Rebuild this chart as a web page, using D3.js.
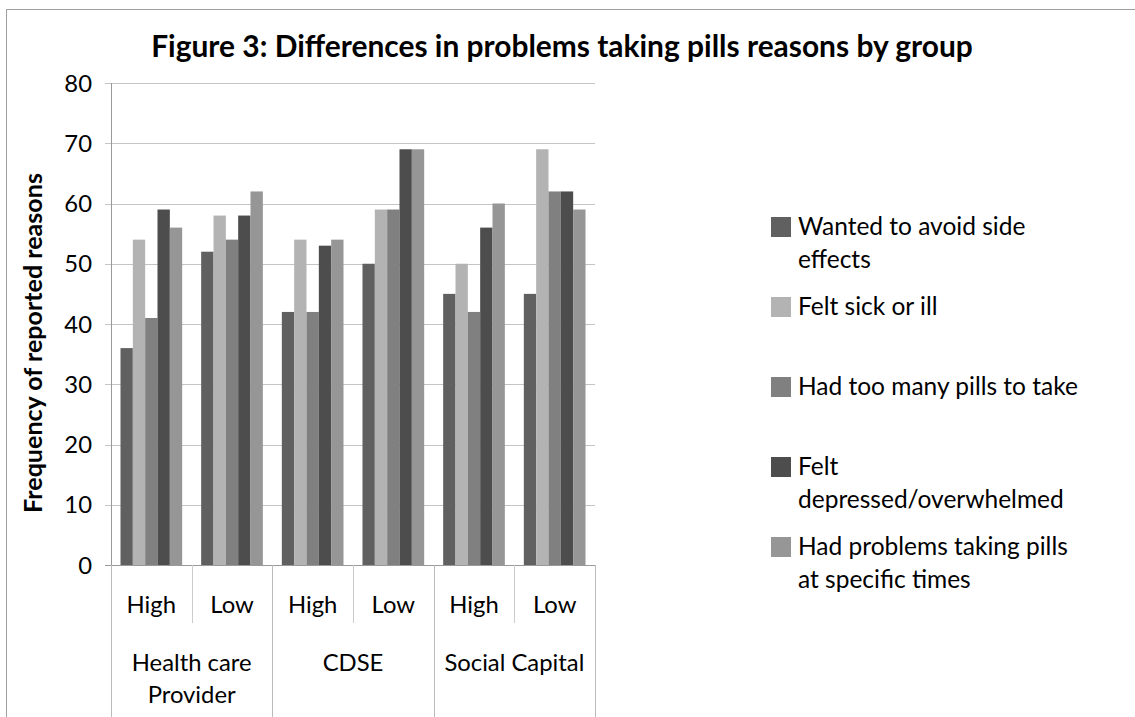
<!DOCTYPE html>
<html>
<head>
<meta charset="utf-8">
<script src="https://cdn.jsdelivr.net/npm/d3@7"></script>
<style>
body{margin:0;background:#fff;}
text{font-family:Lato,"Open Sans",sans-serif;fill:#000;}
</style>
</head>
<body>
<svg id="chart" width="1135" height="717"></svg>
<script>
// data
var groups = ["Health care Provider", "CDSE", "Social Capital"];
var levels = ["High", "Low"];
var series = ["Wanted to avoid side effects", "Felt sick or ill", "Had too many pills to take",
              "Felt depressed/overwhelmed", "Had problems taking pills at specific times"];
var colors = ["#606060", "#b3b3b3", "#808080", "#4d4d4d", "#969696"];
// one row per group/level, one value per series
var values = [
    [36, 54, 41, 59, 56],
    [52, 58, 54, 58, 62],
    [42, 54, 42, 53, 54],
    [50, 59, 59, 69, 69],
    [45, 50, 42, 56, 60],
    [45, 69, 62, 62, 59]
];
var yTicks = [0, 10, 20, 30, 40, 50, 60, 70, 80];
var legendLines = [["Wanted to avoid side", "effects"], ["Felt sick or ill"], ["Had too many pills to take"],
                   ["Felt", "depressed/overwhelmed"], ["Had problems taking pills", "at specific times"]];
var groupLines = [["Health care", "Provider"], ["CDSE"], ["Social Capital"]];

var svg = d3.select("#chart");
var plotLeft = 111, plotRight = 595, plotTop = 83, plotBottom = 565;

// outer frame
svg.append("rect")
    .attr("x", 6.5).attr("y", 9.5)
    .attr("width", 1140).attr("height", 720)
    .attr("fill", "none").attr("stroke", "#a0a0a0");

// font size that makes a text fit a width
function fitSize(str, fs, width, weight){
    var t = svg.append("text").attr("font-size", fs).attr("font-weight", weight || "normal").text(str);
    var len = t.node().getComputedTextLength();
    t.remove();
    return fs * width / len;
}

var labelSize = fitSize("Social Capital", 20, 140);
var legendSize = fitSize("Had too many pills to take", 20, 280);

svg.append("text")
    .attr("x", 562).attr("y", 57)
    .attr("text-anchor", "middle")
    .attr("font-weight", "bold")
    .attr("font-size", fitSize("Figure 3: Differences in problems taking pills reasons by group", 27, 822, "bold"))
    .text("Figure 3: Differences in problems taking pills reasons by group");

var cats = [];
groups.forEach(function(g){ levels.forEach(function(l){ cats.push(g + "|" + l); }); });

var x = d3.scaleBand().domain(cats).range([plotLeft, plotRight]);
var xs = d3.scaleBand().domain(series).range([0, x.bandwidth()]).paddingOuter(0.77);
var y = d3.scaleLinear().domain([0, 80]).range([plotBottom, plotTop]);

// grid
svg.selectAll("line.grid")
    .data(yTicks)
    .enter()
    .append("line")
    .attr("class", "grid")
    .attr("x1", plotLeft - 6).attr("x2", plotRight)
    .attr("y1", function(d){ return Math.round(y(d)) + 0.5; })
    .attr("y2", function(d){ return Math.round(y(d)) + 0.5; })
    .attr("stroke", function(d){ return d == 0 ? "#999" : "#c4c4c4"; })
    .attr("stroke-width", 1.2);

svg.selectAll("text.ytick")
    .data(yTicks)
    .enter()
    .append("text")
    .attr("class", "ytick")
    .attr("x", 92)
    .attr("y", function(d){ return y(d); })
    .attr("dy", "0.36em")
    .attr("text-anchor", "end")
    .attr("font-size", labelSize)
    .text(function(d){ return d; });

// bars
var cells = svg.selectAll("g.cat")
    .data(values)
    .enter()
    .append("g")
    .attr("class", "cat")
    .attr("transform", function(d, i){ return "translate(" + x(cats[i]) + ",0)"; });
cells.selectAll("rect")
    .data(function(d){ return d; })
    .enter()
    .append("rect")
    .attr("x", function(d, i){ return xs(series[i]); })
    .attr("width", xs.bandwidth())
    .attr("y", function(d){ return y(d); })
    .attr("height", function(d){ return y(0) - y(d); })
    .attr("fill", function(d, i){ return colors[i]; });

// left axis line
svg.append("line")
    .attr("x1", plotLeft + 0.5).attr("x2", plotLeft + 0.5)
    .attr("y1", plotTop).attr("y2", plotBottom)
    .attr("stroke", "#999");

// category separators
var seps = d3.range(cats.length + 1);
svg.selectAll("line.sep")
    .data(seps)
    .enter()
    .append("line")
    .attr("class", "sep")
    .attr("x1", function(d){ return Math.round(plotLeft + d * x.bandwidth()) + 0.5; })
    .attr("x2", function(d){ return Math.round(plotLeft + d * x.bandwidth()) + 0.5; })
    .attr("y1", plotBottom)
    .attr("y2", function(d){ return d % 2 == 0 ? 717 : 623; })
    .attr("stroke", function(d){ return d % 2 == 0 ? "#bbb" : "#ccc"; });

svg.selectAll("text.level")
    .data(cats)
    .enter()
    .append("text")
    .attr("class", "level")
    .attr("x", function(d){ return x(d) + x.bandwidth() / 2; })
    .attr("y", 613)
    .attr("text-anchor", "middle")
    .attr("font-size", labelSize)
    .text(function(d){ return d.split("|")[1]; });

var gl = svg.selectAll("text.group")
    .data(groupLines)
    .enter()
    .append("text")
    .attr("class", "group")
    .attr("x", function(d, i){ return x(cats[i * 2]) + x.bandwidth(); })
    .attr("y", 671)
    .attr("text-anchor", "middle")
    .attr("font-size", labelSize);
gl.selectAll("tspan")
    .data(function(d){ return d; })
    .enter()
    .append("tspan")
    .attr("x", function(){ return d3.select(this.parentNode).attr("x"); })
    .attr("dy", function(d, i){ return i == 0 ? 0 : 32; })
    .text(function(d){ return d; });

// y axis title
svg.append("text")
    .attr("transform", "translate(42,343) rotate(-90)")
    .attr("text-anchor", "middle")
    .attr("font-weight", "bold")
    .attr("font-size", fitSize("Frequency of reported reasons", 20, 340, "bold"))
    .text("Frequency of reported reasons");

// legend
var legend = svg.selectAll("g.legend")
    .data(series)
    .enter()
    .append("g")
    .attr("class", "legend")
    .attr("transform", function(d, i){ return "translate(771," + (217 + i * 80) + ")"; });
legend.append("rect")
    .attr("width", 20).attr("height", 20)
    .attr("fill", function(d, i){ return colors[i]; });
var lt = legend.append("text")
    .attr("x", 27).attr("y", 18)
    .attr("font-size", legendSize);
lt.selectAll("tspan")
    .data(function(d, i){ return legendLines[i]; })
    .enter()
    .append("tspan")
    .attr("x", 27)
    .attr("dy", function(d, i){ return i == 0 ? 0 : 33; })
    .text(function(d){ return d; });
</script>
</body>
</html>
